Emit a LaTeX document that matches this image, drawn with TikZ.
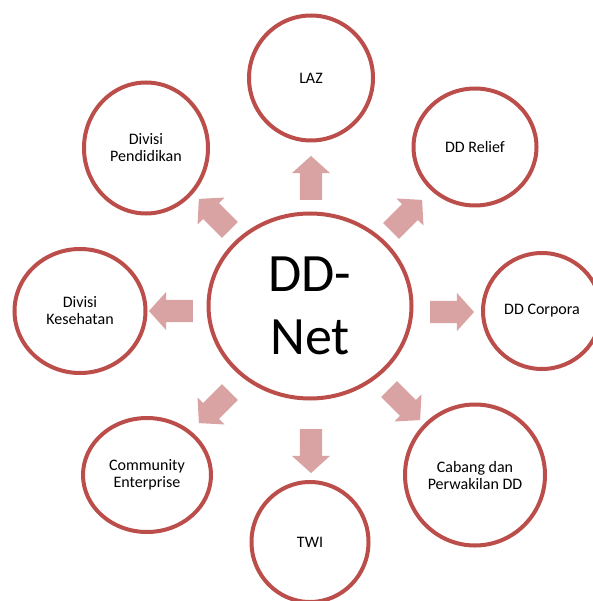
\documentclass[tikz,border=0pt]{standalone}
\usepackage{fontspec}
\setmainfont{Carlito}
\usetikzlibrary{shapes.geometric,shapes.arrows}
\definecolor{ddred}{HTML}{BB4E4A}
\definecolor{ddpink}{HTML}{D8A3A2}
\tikzset{
	unit/.style = {ellipse, draw=ddred, line width=4pt, fill=white, align=center, inner sep=0pt, font=\fontsize{16}{17}\selectfont},
	hub/.style = {unit, fill=none, font=\fontsize{54}{63}\selectfont},
	flow/.style = {single arrow, draw=none, fill=ddpink, inner xsep=0pt, inner ysep=11pt, minimum height=44pt, single arrow head extend=8pt, single arrow tip angle=96}
}

\begin{document}
\begin{tikzpicture}[x=1pt,y=-1pt]
	\useasboundingbox (0,0) rectangle (592,601);
	% centre
	\node (net) [hub, minimum width=203pt, minimum height=185pt] at (310,306) {DD-\\Net};
	
	% units around the centre
	\node (laz) [unit, minimum width=124pt, minimum height=125pt] at (311,78) {LAZ};
	\node (relief) [unit, minimum width=123pt, minimum height=117pt] at (475,147) {DD Relief};
	\node (corpora) [unit, minimum width=118pt, minimum height=116pt] at (542,311) {DD Corpora};
	\node (cabang) [unit, minimum width=140pt, minimum height=141pt] at (475,475) {Cabang dan\\Perwakilan DD};
	\node (twi) [unit, minimum width=117pt, minimum height=120pt] at (310,542) {TWI};
	\node (community) [unit, minimum width=128pt, minimum height=114pt] at (147,475) {Community\\Enterprise};
	\node (kesehatan) [unit, minimum width=131pt, minimum height=124pt] at (80,311) {Divisi\\Kesehatan};
	\node (pendidikan) [unit, minimum width=124pt, minimum height=131pt] at (146,148) {Divisi\\Pendidikan};
	
	% block arrows
	\node (toLaz) [flow, rotate=90] at (311,183) {};
	\node (toRelief) [flow, rotate=45] at (403,219) {};
	\node (toCorpora) [flow] at (447,312) {};
	\node (toCabang) [flow, rotate=-45] at (401,401) {};
	\node (toTwi) [flow, rotate=-90] at (311,446) {};
	\node (toCommunity) [flow, rotate=-135] at (218,404) {};
	\node (toKesehatan) [flow, rotate=180] at (176,311) {};
	\node (toPendidikan) [flow, rotate=135] at (218,218) {};
\end{tikzpicture}
\end{document}
